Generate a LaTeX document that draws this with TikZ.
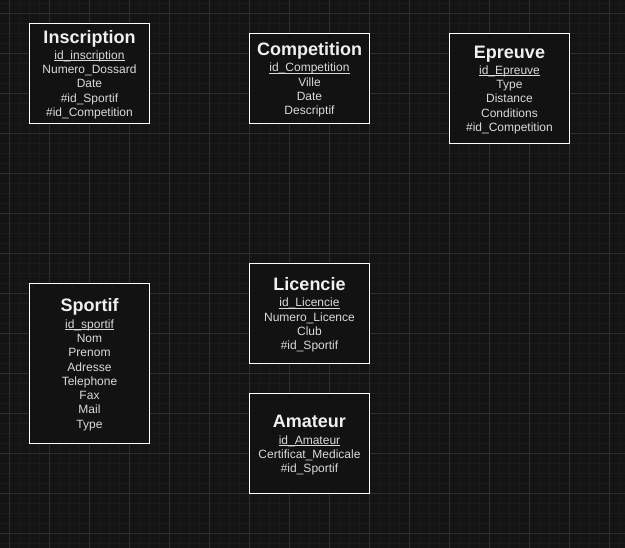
\documentclass[tikz,border=0pt]{standalone}
\usepackage{fontspec}
\setmainfont{Liberation Sans}
\definecolor{bgcol}{HTML}{141414}
\definecolor{minorcol}{HTML}{1B1B1B}
\definecolor{majorcol}{HTML}{2E2E2E}
\definecolor{boxfill}{HTML}{121212}
\definecolor{titlecol}{HTML}{F0F0F0}
\definecolor{attrcol}{HTML}{DADADA}
\newcommand\erul[1]{\setbox0\hbox{#1}\rlap{\rule[-1.8pt]{\wd0}{0.7pt}}\box0}
% #1 name, #2 cx, #3 ytop, #4 height, #5 title, #6 title centre y, #7 first attr centre y, #8 list
\newcommand\erentity[8]{%
  \node[entbox, minimum height=#4pt] (#1) at (#2,{#3+#4/2}) {};
  \node[enttitle] (#1-t) at (#2,{#6+6.5}) {#5};
  \foreach \a [count=\i from 0] in {#8}
    \node[entattr] (#1-\i) at (#2,{#7+4.3+14.25*\i}) {\a};
}
\tikzset{
  entbox/.style={draw=white, line width=1pt, fill=boxfill, minimum width=120pt, inner sep=0pt},
  enttitle/.style={anchor=base, inner sep=0pt, text=titlecol, font=\fontsize{18}{21}\selectfont\bfseries},
  entattr/.style={anchor=base, inner sep=0pt, text=attrcol, font=\fontsize{12}{14}\selectfont},
  minorline/.style={draw=minorcol, line width=0.8pt},
  majorline/.style={draw=majorcol, line width=0.9pt}
}
\begin{document}
\begin{tikzpicture}[x=1pt,y=-1pt]
\useasboundingbox (0,0) rectangle (625,548);
\fill[bgcol] (0,0) rectangle (625,548);
% minor grid
\foreach \x in {9,19,...,619} \draw[minorline] (\x,0) -- (\x,548);
\foreach \y in {3,13,...,543} \draw[minorline] (0,\y) -- (625,\y);
% major grid
\foreach \x in {9,49,...,609} \draw[majorline] (\x,0) -- (\x,548);
\foreach \y in {13,53,...,533} \draw[majorline] (0,\y) -- (625,\y);

\erentity{insc}{89.5}{23.5}{100}{Inscription}{37}{55}{{\erul{id\_inscription}},Numero\_Dossard,Date,\#id\_Sportif,\#id\_Competition}
\erentity{comp}{309.5}{33.5}{90}{Competition}{49.3}{67.7}{{\erul{id\_Competition}},Ville,Date,Descriptif}
\erentity{epr}{509.5}{33.5}{110}{Epreuve}{51.7}{70}{{\erul{id\_Epreuve}},Type,Distance,Conditions,\#id\_Competition}
\erentity{spo}{89.5}{283.5}{160}{Sportif}{305}{324}{{\erul{id\_sportif}},Nom,Prenom,Adresse,Telephone,Fax,Mail,Type}
\erentity{lic}{309.5}{263.5}{100}{Licencie}{284}{302.7}{{\erul{id\_Licencie}},Numero\_Licence,Club,\#id\_Sportif}
\erentity{ama}{309.5}{393.5}{100}{Amateur}{420.7}{440}{{\erul{id\_Amateur}},Certificat\_Medicale,\#id\_Sportif}
\end{tikzpicture}
\end{document}
